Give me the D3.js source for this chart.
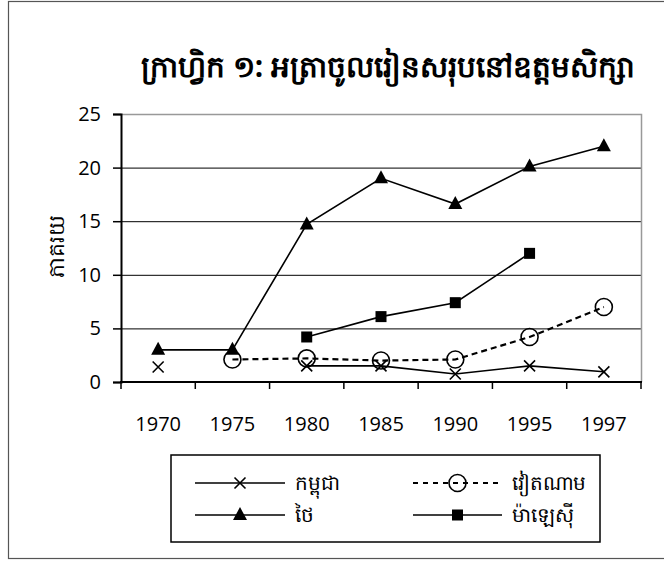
<!DOCTYPE html>
<html>
<head>
<meta charset="utf-8">
<script src="https://cdn.jsdelivr.net/npm/d3@7"></script>
<style>
  html, body { margin: 0; padding: 0; background: #fff; }
  svg { display: block; }
  text { font-family: "Open Sans", "Noto Sans", sans-serif; fill: #000; }
</style>
</head>
<body>
<svg id="chart" width="664" height="562"></svg>
<script>
const years = ["1970", "1975", "1980", "1985", "1990", "1995", "1997"];
const cambodia = [1.4, null, 1.5, 1.5, 0.75, 1.5, 0.95];
const vietnam  = [null, 2.1, 2.2, 2.0, 2.1, 4.2, 7.0];
const thailand = [3.0, 3.0, 14.7, 19.0, 16.6, 20.1, 22.0];
const malaysia = [null, null, 4.2, 6.1, 7.4, 12.0, null];
const yTicks = [0, 5, 10, 15, 20, 25];
const titleText = "ក្រាហ្វិក ១: អត្រាចូលរៀនសរុបនៅឧត្តមសិក្សា";
const yLabel = "ភាគរយ";
const seriesNames = ["កម្ពុជា", "វៀតណាម", "ថៃ", "ម៉ាឡេស៊ី"];

const series = [
  { name: seriesNames[0], values: cambodia, marker: "x", dashed: false },
  { name: seriesNames[1], values: vietnam, marker: "circle", dashed: true },
  { name: seriesNames[2], values: thailand, marker: "triangle", dashed: false },
  { name: seriesNames[3], values: malaysia, marker: "square", dashed: false }
];

const svg = d3.select("#chart");

// outer frame
svg.append("rect").attr("x", 8.5).attr("y", 1.5).attr("width", 660).attr("height", 557)
  .attr("fill", "none").attr("stroke", "#555").attr("stroke-width", 1.2);

const plot = { left: 121, right: 641, top: 114, bottom: 382 };
const x = d3.scaleBand().domain(years).range([plot.left, plot.right]).paddingInner(0).paddingOuter(0);
const y = d3.scaleLinear().domain([0, 25]).range([plot.bottom, plot.top]);

// gridlines
svg.append("g").selectAll("line").data(yTicks.filter(d => d > 0 && d < 25)).join("line")
  .attr("x1", plot.left).attr("x2", plot.right)
  .attr("y1", d => y(d) + 0.5).attr("y2", d => y(d) + 0.5)
  .attr("stroke", "#000").attr("stroke-width", 1);

// plot area border (top & right gray)
svg.append("path")
  .attr("d", `M${plot.left},${plot.top + 0.5}H${plot.right + 0.5}V${plot.bottom}`)
  .attr("fill", "none").attr("stroke", "#999").attr("stroke-width", 1.5);

// y axis
const yAxis = d3.axisLeft(y).tickValues(yTicks).tickSize(8).tickPadding(12);
const gy = svg.append("g").attr("transform", `translate(${plot.left},0)`).call(yAxis);
gy.select(".domain").attr("stroke", "#000").attr("stroke-width", 2);
gy.selectAll(".tick line").attr("stroke", "#000").attr("stroke-width", 1.5);
gy.selectAll(".tick text").attr("font-size", 20).attr("font-family", "Open Sans, sans-serif").attr("fill", "#000");

// x axis: ticks at band boundaries
const gx = svg.append("g");
gx.append("line").attr("x1", plot.left - 1).attr("x2", plot.right + 1)
  .attr("y1", plot.bottom).attr("y2", plot.bottom).attr("stroke", "#000").attr("stroke-width", 2);
const boundaries = years.map(d => x(d)).concat([x(years[years.length - 1]) + x.bandwidth()]);
gx.selectAll("line.tk").data(boundaries).join("line").attr("class", "tk")
  .attr("x1", d => d).attr("x2", d => d).attr("y1", plot.bottom).attr("y2", plot.bottom + 7)
  .attr("stroke", "#000").attr("stroke-width", 1.5);
gx.selectAll("text").data(years).join("text")
  .attr("x", d => x(d) + x.bandwidth() / 2).attr("y", 431)
  .attr("text-anchor", "middle").attr("font-size", 20).text(d => d);

// title
svg.append("text").attr("x", 388).attr("y", 77).attr("text-anchor", "middle")
  .attr("font-size", 29.5).attr("font-weight", "bold").text(titleText);

// y label
svg.append("text").attr("transform", `translate(64,246) rotate(-90)`)
  .attr("text-anchor", "middle").attr("font-size", 22).text(yLabel);

// lines
const cx = (i) => x(years[i]) + x.bandwidth() / 2;
const line = d3.line().defined(d => d.v !== null).x(d => cx(d.i)).y(d => y(d.v));

function drawMarker(g, type, px, py) {
  if (type === "x") {
    const s = 5.5;
    g.append("path").attr("d", `M${px - s},${py - s}L${px + s},${py + s}M${px - s},${py + s}L${px + s},${py - s}`)
      .attr("stroke", "#000").attr("stroke-width", 1.6).attr("fill", "none");
  } else if (type === "circle") {
    g.append("circle").attr("cx", px).attr("cy", py).attr("r", 8.5)
      .attr("fill", "none").attr("stroke", "#000").attr("stroke-width", 1.6);
  } else if (type === "triangle") {
    g.append("path").attr("d", `M${px},${py - 8}L${px + 7},${py + 5}L${px - 7},${py + 5}Z`).attr("fill", "#000");
  } else if (type === "square") {
    g.append("rect").attr("x", px - 5.5).attr("y", py - 5.5).attr("width", 11).attr("height", 11).attr("fill", "#000");
  }
}

series.forEach(s => {
  const data = s.values.map((v, i) => ({ v, i }));
  svg.append("path").datum(data).attr("d", line)
    .attr("fill", "none").attr("stroke", "#000")
    .attr("stroke-width", s.dashed ? 2.2 : 1.6)
    .attr("stroke-dasharray", s.dashed ? "6,4" : null);
});
series.forEach(s => {
  const g = svg.append("g");
  s.values.forEach((v, i) => { if (v !== null) drawMarker(g, s.marker, cx(i), y(v)); });
});

// legend
svg.append("rect").attr("x", 171).attr("y", 455).attr("width", 429).attr("height", 87)
  .attr("fill", "none").attr("stroke", "#000").attr("stroke-width", 1.5);
const legendPos = [
  { lx: 195, rx: 285, ty: 483 },
  { lx: 413, rx: 502, ty: 483 },
  { lx: 195, rx: 285, ty: 515 },
  { lx: 413, rx: 502, ty: 515 }
];
series.forEach((s, k) => {
  const p = legendPos[k];
  const g = svg.append("g");
  g.append("line").attr("x1", p.lx).attr("x2", p.rx).attr("y1", p.ty).attr("y2", p.ty)
    .attr("stroke", "#000").attr("stroke-width", s.dashed ? 2.2 : 1.6)
    .attr("stroke-dasharray", s.dashed ? "5,5" : null);
  drawMarker(g, s.marker, (p.lx + p.rx) / 2, p.ty);
  g.append("text").attr("x", p.rx + 10).attr("y", p.ty + 7).attr("font-size", 20).text(s.name);
});
</script>
</body>
</html>
